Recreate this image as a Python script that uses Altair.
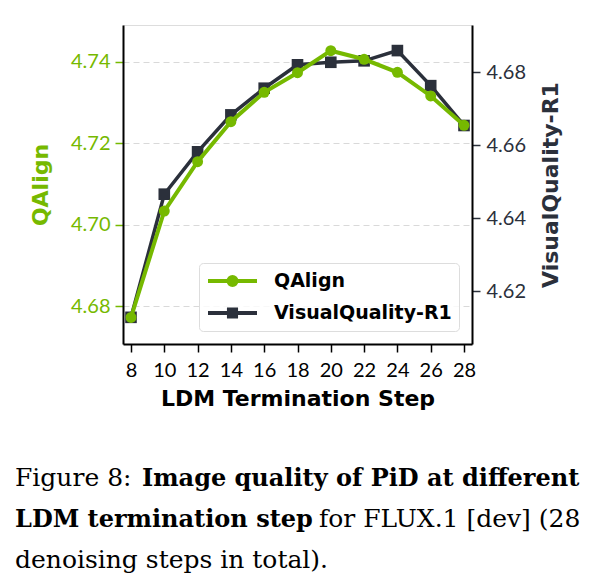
import altair as alt
import pandas as pd

# ---------------- data ----------------
steps = [8, 10, 12, 14, 16, 18, 20, 22, 24, 26, 28]
qalign = [4.6773, 4.7034, 4.7155, 4.7253, 4.7325, 4.7373, 4.7427, 4.7406, 4.7374, 4.7316, 4.7244]
visualquality = [4.6129, 4.6466, 4.6582, 4.6683, 4.6756, 4.6820, 4.6827, 4.6831, 4.6859, 4.6763, 4.6654]
series_names = ["QAlign", "VisualQuality-R1"]
left_ticks = [4.68, 4.70, 4.72, 4.74]
right_ticks = [4.62, 4.64, 4.66, 4.68]
caption_l1_a = "Figure 8:"
caption_l1_b = "Image quality of PiD at different"
caption_l2_a = "LDM termination step"
caption_l2_b = "for FLUX.1 [dev] (28"
caption_l3 = "denoising steps in total)."

GREEN = "#76b900"
DARK = "#2b303b"
SANS = "DejaVu Sans"
TICKF = "Lato"
SERIF = "DejaVu Serif"

df = pd.DataFrame({"step": steps, "qalign": qalign, "vq": visualquality})

x_enc = alt.X(
    "step:Q",
    scale=alt.Scale(domain=[7.52, 28.48], nice=False, zero=False),
    axis=alt.Axis(
        values=steps, title="LDM Termination Step", grid=False,
        labelFont=TICKF, labelFontSize=20, labelColor="black", labelPadding=8,
        tickSize=8, tickWidth=1.5, tickColor="black",
        domainColor="black", domainWidth=2,
        titleFont=SANS, titleFontWeight="bold", titleFontSize=22, titleColor="black",
        titlePadding=8,
    ),
)

y_left = alt.Y(
    "qalign:Q",
    scale=alt.Scale(domain=[4.6708, 4.749], nice=False, zero=False),
    axis=alt.Axis(
        orient="left", values=left_ticks, format=".2f", title="QAlign",
        grid=True, gridColor="#d9d9d9", gridDash=[6, 4], gridWidth=1.2,
        labelFont=TICKF, labelFontSize=20, labelColor=GREEN, labelPadding=5,
        tickSize=8, tickWidth=1.5, tickColor=GREEN,
        domainColor="black", domainWidth=2,
        titleFont=SANS, titleFontWeight="bold", titleFontSize=22, titleColor=GREEN,
        titleX=-83, titleY=159.5, titleAlign="center", titleBaseline="middle", titleAngle=270,
    ),
)

y_right = alt.Y(
    "vq:Q",
    scale=alt.Scale(domain=[4.6056, 4.6929], nice=False, zero=False),
    axis=alt.Axis(
        orient="right", values=right_ticks, format=".2f", title="VisualQuality-R1",
        grid=False,
        labelFont=TICKF, labelFontSize=20, labelColor=DARK, labelPadding=6,
        tickSize=8, tickWidth=1.5, tickColor=DARK,
        domainColor="black", domainWidth=2,
        titleFont=SANS, titleFontWeight="bold", titleFontSize=22, titleColor=DARK,
        titleX=78, titleY=159.5, titleAlign="center", titleBaseline="middle", titleAngle=270,
    ),
)

base = alt.Chart(df)

vq_line = base.mark_line(color=DARK, strokeWidth=3.5).encode(x=x_enc, y=y_right)
vq_pts = base.mark_point(shape="square", filled=True, size=135, color=DARK, opacity=1).encode(x=x_enc, y=y_right)

q_line = base.mark_line(color=GREEN, strokeWidth=4).encode(x=x_enc, y=y_left)
q_pts = base.mark_point(shape="circle", filled=True, size=120, color=GREEN, opacity=1).encode(x=x_enc, y=y_left)

# legend symbols: a line with a marker in the middle
sym_circle = "M-1,0L1,0M-0.165,0A0.165,0.165,0,1,0,0.165,0A0.165,0.165,0,1,0,-0.165,0Z"
sym_square = "M-1,0L1,0M-0.145,-0.145L0.145,-0.145L0.145,0.145L-0.145,0.145Z"

leg = alt.Legend(
    title=None, orient="none", legendX=76, legendY=238,
    symbolSize=2400, symbolStrokeWidth=4, symbolOpacity=1,
    labelFont=SANS, labelFontWeight="bold", labelFontSize=19, labelColor="black",
    labelOffset=15, labelLimit=400, padding=7, rowPadding=10, clipHeight=22,
    strokeColor="#dddddd", cornerRadius=4, fillColor="rgba(255,255,255,0.8)",
)
legend_layer = alt.Chart(pd.DataFrame({"series": series_names})).mark_point(
    filled=True, opacity=0
).encode(
    shape=alt.Shape("series:N", scale=alt.Scale(domain=series_names, range=[sym_circle, sym_square]), legend=leg),
    fill=alt.Fill("series:N", scale=alt.Scale(domain=series_names, range=[GREEN, DARK]), legend=leg),
    stroke=alt.Stroke("series:N", scale=alt.Scale(domain=series_names, range=[GREEN, DARK]), legend=leg),
)

# caption
cap_src = alt.Chart(pd.DataFrame({"k": [0]}))
def cap(text, xpos, ypos, bold):
    return cap_src.mark_text(
        align="left", baseline="alphabetic", font=SERIF,
        fontSize=24 if bold else 25,
        fontWeight="bold" if bold else "normal", color="black",
    ).encode(x=alt.value(xpos), y=alt.value(ypos), text=alt.value(text))

caption = alt.layer(
    cap(caption_l1_a, -108, 461, False),
    cap(caption_l1_b, 19, 461, True),
    cap(caption_l2_a, -108, 502, True),
    cap(caption_l2_b, 196, 502, False),
    cap(caption_l3, -108, 543, False),
)

chart = alt.layer(
    alt.layer(vq_line, vq_pts),
    alt.layer(q_line, q_pts, legend_layer),
    caption,
).resolve_scale(y="independent").properties(
    width=349, height=319,
    autosize=alt.AutoSizeParams(type="none"),
    padding={"left": 123, "top": 25, "right": 124, "bottom": 240},
).configure_view(stroke=None).configure(background="white")

chart.save("out.html", embed_options={"renderer": "svg", "actions": False})
